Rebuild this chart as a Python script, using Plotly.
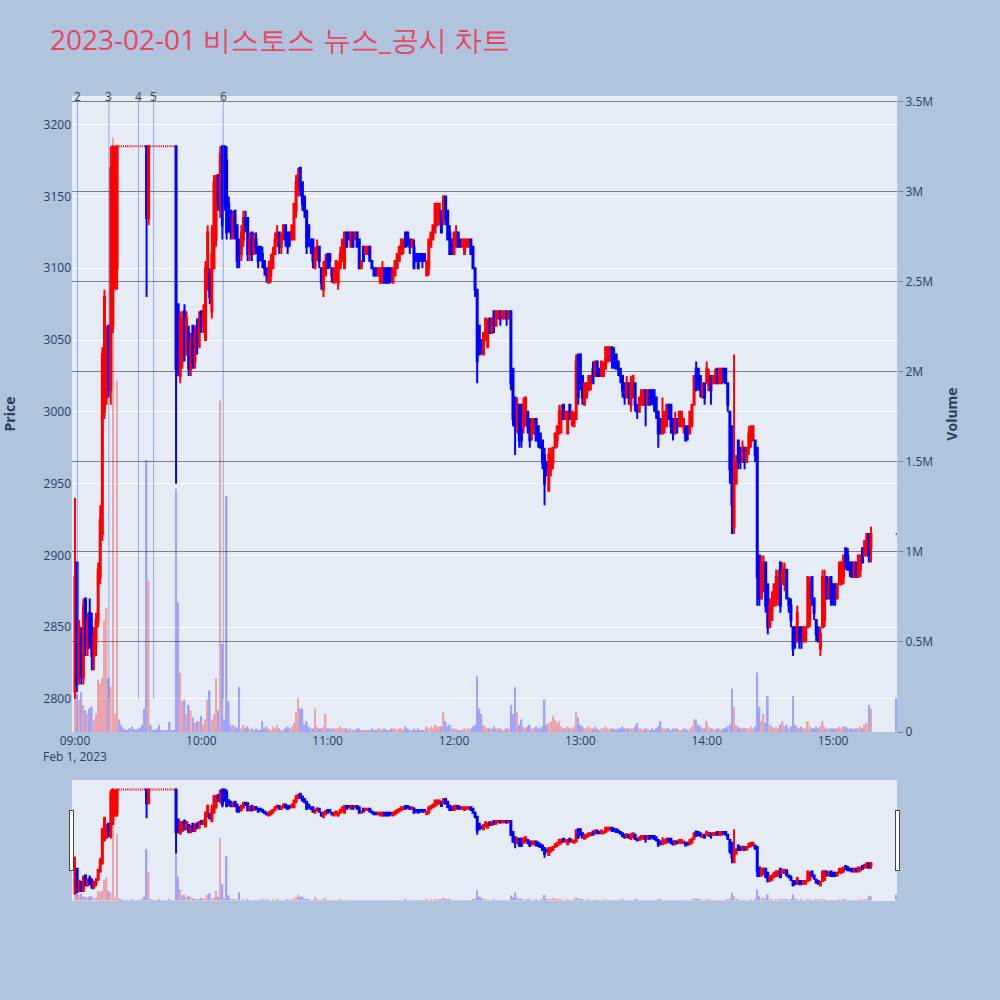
import pandas as pd
import plotly.graph_objects as go

# minute offsets from 09:00 (continuous session up to 15:18, closing print at 15:30)
minute_offsets = list(range(379)) + [390]

opens = [
    2805, 2895, 2815, 2845, 2815, 2870, 2835, 2860, 2850, 2830,
    2840, 2855, 2885, 2915, 3000, 3010, 3060, 3015, 3060, 3100,
    3100, 3185, 3185, 3185, 3185, 3185, 3185, 3185, 3185, 3185,
    3185, 3185, 3185, 3185, 3185, 3135, 3185, 3185, 3185, 3185,
    3185, 3185, 3185, 3185, 3185, 3185, 3185, 3185, 3185, 3075,
    3025, 3035, 3070, 3040, 3055, 3030, 3060, 3035, 3060, 3045,
    3070, 3060, 3050, 3085, 3095, 3070, 3100, 3120, 3165, 3140,
    3185, 3185, 3175, 3145, 3140, 3125, 3140, 3130, 3120, 3110,
    3120, 3135, 3135, 3110, 3125, 3110, 3120, 3115, 3115, 3110,
    3105, 3100, 3090, 3095, 3100, 3110, 3120, 3125, 3115, 3120,
    3130, 3125, 3125, 3120, 3120, 3140, 3155, 3170, 3160, 3150,
    3140, 3130, 3120, 3120, 3100, 3110, 3115, 3100, 3085, 3095,
    3110, 3110, 3100, 3090, 3095, 3090, 3100, 3105, 3100, 3125,
    3125, 3115, 3125, 3120, 3125, 3120, 3100, 3115, 3110, 3110,
    3115, 3105, 3100, 3100, 3095, 3090, 3090, 3100, 3100, 3100,
    3100, 3090, 3095, 3100, 3105, 3110, 3115, 3125, 3125, 3120,
    3115, 3115, 3110, 3110, 3110, 3110, 3110, 3095, 3100, 3115,
    3120, 3125, 3130, 3135, 3140, 3135, 3150, 3140, 3125, 3120,
    3110, 3115, 3125, 3120, 3115, 3110, 3115, 3115, 3120, 3115,
    3100, 3085, 3060, 3050, 3040, 3050, 3045, 3065, 3055, 3070,
    3060, 3065, 3070, 3065, 3065, 3070, 3065, 3070, 3030, 3010,
    2990, 3005, 3005, 2990, 2995, 3000, 2995, 2985, 2985, 2995,
    2990, 2985, 2980, 2970, 2965, 2945, 2960, 2965, 2975, 2980,
    2985, 2995, 3005, 2995, 2985, 3005, 2995, 2990, 2995, 3040,
    3040, 3025, 3005, 3010, 3015, 3020, 3030, 3025, 3035, 3030,
    3025, 3025, 3030, 3035, 3040, 3045, 3040, 3040, 3035, 3030,
    3025, 3020, 3010, 3020, 3005, 3010, 3020, 3005, 3000, 3005,
    3005, 3015, 3005, 3015, 3015, 3015, 3010, 3000, 2995, 2985,
    2990, 2990, 3005, 3005, 2995, 2985, 2995, 2990, 2990, 2990,
    2990, 2990, 2985, 2990, 3005, 3030, 3030, 3025, 3010, 3020,
    3020, 3015, 3025, 3020, 3020, 3030, 3020, 3020, 3030, 3030,
    3020, 3000, 2990, 2920, 2950, 2980, 2975, 2965, 2975, 2965,
    2975, 2980, 2980, 2980, 2975, 2900, 2870, 2875, 2895, 2880,
    2850, 2855, 2865, 2870, 2870, 2895, 2880, 2880, 2890, 2870,
    2865, 2850, 2850, 2840, 2850, 2850, 2840, 2840, 2850, 2855,
    2885, 2870, 2855, 2850, 2835, 2850, 2855, 2885, 2870, 2885,
    2880, 2880, 2870, 2880, 2880, 2885, 2905, 2900, 2895, 2895,
    2885, 2895, 2885, 2890, 2905, 2900, 2900, 2915, 2905,
    2915,
]

highs = [
    2940, 2895, 2855, 2850, 2870, 2870, 2860, 2870, 2860, 2850,
    2860, 2895, 2935, 3045, 3085, 3060, 3060, 3185, 3185, 3185,
    3185, 3185, 3185, 3185, 3185, 3185, 3185, 3185, 3185, 3185,
    3185, 3185, 3185, 3185, 3185, 3185, 3185, 3185, 3185, 3185,
    3185, 3185, 3185, 3185, 3185, 3185, 3185, 3185, 3185, 3075,
    3070, 3070, 3075, 3070, 3060, 3055, 3060, 3060, 3065, 3070,
    3070, 3075, 3105, 3130, 3100, 3130, 3165, 3165, 3165, 3185,
    3185, 3185, 3185, 3150, 3140, 3140, 3140, 3130, 3120, 3130,
    3140, 3140, 3135, 3125, 3125, 3125, 3125, 3115, 3115, 3115,
    3105, 3100, 3105, 3110, 3115, 3125, 3130, 3125, 3125, 3130,
    3130, 3125, 3125, 3130, 3145, 3165, 3170, 3170, 3160, 3150,
    3140, 3130, 3120, 3120, 3115, 3120, 3115, 3100, 3105, 3110,
    3110, 3110, 3100, 3100, 3105, 3105, 3115, 3120, 3125, 3125,
    3125, 3125, 3125, 3125, 3125, 3120, 3105, 3115, 3115, 3115,
    3115, 3105, 3100, 3100, 3100, 3100, 3105, 3100, 3100, 3100,
    3100, 3100, 3105, 3110, 3115, 3120, 3120, 3125, 3125, 3120,
    3120, 3120, 3110, 3110, 3110, 3110, 3110, 3105, 3120, 3125,
    3130, 3145, 3145, 3145, 3140, 3150, 3150, 3140, 3130, 3120,
    3125, 3130, 3125, 3120, 3120, 3120, 3120, 3120, 3120, 3115,
    3100, 3085, 3060, 3050, 3055, 3065, 3065, 3065, 3065, 3070,
    3070, 3070, 3070, 3070, 3070, 3070, 3070, 3070, 3030, 3010,
    3010, 3005, 3005, 3010, 3010, 3000, 2995, 2995, 2995, 2995,
    2990, 2985, 2980, 2975, 2965, 2975, 2975, 2975, 2985, 2990,
    3005, 3005, 3005, 3000, 3000, 3005, 3000, 3000, 3040, 3040,
    3040, 3025, 3020, 3020, 3025, 3025, 3035, 3035, 3035, 3030,
    3035, 3035, 3045, 3045, 3045, 3045, 3045, 3040, 3035, 3030,
    3025, 3020, 3025, 3020, 3025, 3025, 3020, 3005, 3010, 3015,
    3015, 3015, 3015, 3015, 3015, 3015, 3010, 3000, 2995, 3010,
    3000, 3005, 3005, 3005, 2995, 3000, 2995, 3000, 3000, 2995,
    2990, 2990, 3000, 3005, 3025, 3035, 3030, 3025, 3020, 3020,
    3035, 3030, 3025, 3025, 3030, 3030, 3030, 3030, 3030, 3030,
    3020, 3000, 2990, 3040, 2970, 2980, 2975, 2980, 2975, 2975,
    2990, 2990, 2990, 2980, 2975, 2900, 2900, 2900, 2895, 2880,
    2870, 2875, 2880, 2890, 2890, 2895, 2895, 2895, 2890, 2870,
    2870, 2850, 2850, 2865, 2850, 2850, 2850, 2850, 2885, 2885,
    2885, 2870, 2855, 2850, 2850, 2890, 2890, 2885, 2885, 2885,
    2880, 2880, 2880, 2895, 2895, 2900, 2905, 2905, 2895, 2895,
    2895, 2895, 2900, 2900, 2905, 2910, 2915, 2915, 2920,
    2915,
]

lows = [
    2800, 2805, 2810, 2810, 2810, 2830, 2830, 2835, 2820, 2820,
    2830, 2850, 2880, 2910, 2995, 3005, 3010, 3005, 3055, 3085,
    3085, 3185, 3185, 3185, 3185, 3185, 3185, 3185, 3185, 3185,
    3185, 3185, 3185, 3185, 3080, 3130, 3185, 3185, 3185, 3185,
    3185, 3185, 3185, 3185, 3185, 3185, 3185, 3185, 2950, 3025,
    3020, 3030, 3035, 3040, 3025, 3025, 3030, 3030, 3040, 3045,
    3055, 3055, 3050, 3085, 3075, 3065, 3100, 3115, 3140, 3135,
    3120, 3140, 3120, 3125, 3120, 3120, 3120, 3100, 3100, 3105,
    3115, 3125, 3105, 3105, 3105, 3110, 3110, 3100, 3105, 3100,
    3095, 3090, 3090, 3090, 3100, 3110, 3115, 3110, 3110, 3120,
    3115, 3110, 3115, 3120, 3120, 3135, 3150, 3150, 3140, 3135,
    3110, 3115, 3110, 3100, 3100, 3105, 3100, 3085, 3080, 3095,
    3100, 3100, 3090, 3090, 3090, 3085, 3100, 3105, 3100, 3115,
    3120, 3115, 3115, 3120, 3115, 3100, 3100, 3105, 3110, 3110,
    3105, 3100, 3095, 3095, 3095, 3090, 3090, 3090, 3090, 3090,
    3090, 3090, 3095, 3100, 3105, 3110, 3110, 3115, 3115, 3110,
    3115, 3100, 3105, 3100, 3105, 3100, 3105, 3095, 3095, 3115,
    3120, 3125, 3130, 3130, 3125, 3130, 3130, 3120, 3110, 3110,
    3110, 3115, 3115, 3115, 3115, 3110, 3115, 3115, 3110, 3100,
    3080, 3020, 3040, 3040, 3040, 3050, 3045, 3055, 3055, 3055,
    3060, 3065, 3060, 3065, 3065, 3060, 3065, 3015, 2990, 2970,
    2985, 2975, 2975, 2985, 2990, 2985, 2975, 2980, 2985, 2980,
    2975, 2975, 2960, 2935, 2955, 2945, 2955, 2960, 2975, 2975,
    2985, 2985, 2995, 2995, 2985, 2995, 2990, 2990, 2995, 3005,
    3015, 3005, 3005, 3010, 3015, 3015, 3020, 3025, 3025, 3025,
    3025, 3025, 3030, 3035, 3035, 3030, 3030, 3030, 3025, 3020,
    3010, 3005, 3010, 3005, 3000, 3010, 3000, 2995, 3000, 3005,
    3005, 2990, 3005, 3005, 3005, 3000, 2995, 2975, 2985, 2985,
    2985, 2990, 2995, 2985, 2980, 2985, 2985, 2990, 2990, 2985,
    2980, 2980, 2985, 2990, 3005, 3015, 3015, 3010, 3010, 3005,
    3020, 3015, 3005, 3020, 3020, 3020, 3020, 3020, 3020, 3020,
    3000, 2950, 2915, 2915, 2950, 2960, 2960, 2965, 2960, 2965,
    2970, 2975, 2980, 2965, 2865, 2865, 2870, 2875, 2860, 2845,
    2850, 2855, 2865, 2865, 2865, 2860, 2880, 2875, 2870, 2860,
    2850, 2830, 2835, 2840, 2835, 2835, 2840, 2840, 2850, 2850,
    2865, 2855, 2840, 2840, 2830, 2850, 2850, 2870, 2870, 2865,
    2865, 2865, 2870, 2880, 2880, 2880, 2890, 2890, 2885, 2885,
    2885, 2885, 2885, 2885, 2895, 2900, 2900, 2895, 2895,
    2915,
]

closes = [
    2885, 2810, 2850, 2815, 2865, 2835, 2855, 2840, 2830, 2845,
    2855, 2890, 2925, 3040, 3080, 3045, 3015, 3170, 3185, 3165,
    3185, 3185, 3185, 3185, 3185, 3185, 3185, 3185, 3185, 3185,
    3185, 3185, 3185, 3185, 3135, 3185, 3185, 3185, 3185, 3185,
    3185, 3185, 3185, 3185, 3185, 3185, 3185, 3185, 3030, 3030,
    3065, 3065, 3040, 3065, 3030, 3050, 3035, 3055, 3045, 3065,
    3060, 3070, 3100, 3125, 3080, 3110, 3160, 3150, 3145, 3180,
    3130, 3145, 3125, 3130, 3125, 3135, 3125, 3105, 3110, 3125,
    3135, 3130, 3110, 3120, 3110, 3120, 3115, 3105, 3110, 3105,
    3100, 3095, 3100, 3105, 3110, 3120, 3125, 3115, 3120, 3130,
    3120, 3115, 3120, 3130, 3145, 3160, 3165, 3155, 3145, 3140,
    3115, 3120, 3115, 3105, 3110, 3115, 3105, 3090, 3100, 3105,
    3100, 3105, 3095, 3100, 3105, 3100, 3110, 3120, 3125, 3115,
    3120, 3125, 3115, 3125, 3115, 3100, 3105, 3105, 3115, 3115,
    3105, 3100, 3095, 3095, 3100, 3100, 3100, 3090, 3090, 3090,
    3095, 3100, 3105, 3110, 3115, 3120, 3120, 3115, 3120, 3115,
    3120, 3100, 3105, 3100, 3105, 3105, 3105, 3105, 3120, 3125,
    3130, 3145, 3145, 3145, 3125, 3150, 3135, 3120, 3110, 3110,
    3125, 3125, 3115, 3115, 3120, 3120, 3120, 3120, 3110, 3100,
    3085, 3035, 3040, 3045, 3055, 3065, 3060, 3055, 3065, 3060,
    3070, 3070, 3065, 3070, 3070, 3065, 3070, 3020, 2995, 2990,
    3005, 2980, 2980, 3005, 3010, 2990, 2980, 2995, 2995, 2980,
    2980, 2975, 2965, 2950, 2960, 2970, 2970, 2975, 2985, 2990,
    3000, 3000, 2995, 3000, 3000, 2995, 3000, 2995, 3035, 3010,
    3020, 3010, 3020, 3020, 3025, 3025, 3020, 3035, 3025, 3025,
    3035, 3030, 3045, 3045, 3045, 3035, 3035, 3030, 3030, 3025,
    3015, 3010, 3020, 3010, 3020, 3025, 3005, 3000, 3010, 3015,
    3015, 3005, 3015, 3005, 3010, 3005, 3000, 2985, 2985, 2995,
    3000, 3005, 2995, 2990, 2985, 2995, 2990, 3000, 3000, 2995,
    2980, 2985, 3000, 3005, 3025, 3015, 3020, 3015, 3020, 3010,
    3030, 3025, 3015, 3025, 3025, 3020, 3030, 3030, 3025, 3020,
    3005, 2960, 2935, 2950, 2965, 2965, 2965, 2975, 2965, 2975,
    2985, 2990, 2990, 2970, 2885, 2870, 2895, 2895, 2865, 2850,
    2865, 2870, 2880, 2885, 2885, 2865, 2890, 2890, 2870, 2865,
    2855, 2835, 2840, 2860, 2840, 2845, 2850, 2850, 2885, 2880,
    2870, 2860, 2845, 2840, 2845, 2885, 2885, 2870, 2880, 2870,
    2870, 2870, 2880, 2895, 2895, 2900, 2895, 2890, 2890, 2885,
    2895, 2885, 2900, 2900, 2895, 2910, 2915, 2900, 2915,
    2915,
]

volumes_k = [
    200, 210, 180, 220, 150, 120, 100, 130, 140, 70,
    100, 290, 270, 300, 620, 690, 300, 250, 3300, 100,
    1950, 70, 40, 20, 10, 10, 20, 30, 15, 10,
    20, 25, 40, 130, 1510, 840, 40, 10, 10, 20,
    40, 10, 10, 5, 10, 55, 10, 10, 1350, 720,
    330, 170, 180, 100, 150, 120, 80, 50, 60, 60,
    90, 40, 70, 180, 230, 70, 100, 300, 120, 1840,
    490, 70, 1310, 170, 40, 40, 30, 20, 250, 20,
    40, 20, 30, 20, 20, 10, 20, 10, 10, 60,
    20, 30, 20, 10, 30, 20, 40, 20, 10, 10,
    20, 30, 20, 30, 50, 110, 190, 130, 130, 40,
    60, 30, 20, 20, 130, 30, 20, 20, 30, 100,
    20, 20, 20, 20, 20, 20, 30, 20, 20, 20,
    10, 20, 10, 10, 20, 20, 10, 10, 10, 10,
    10, 20, 10, 10, 20, 20, 10, 20, 10, 10,
    20, 20, 20, 10, 20, 20, 10, 30, 20, 10,
    10, 20, 10, 20, 10, 10, 10, 30, 20, 30,
    20, 40, 30, 30, 30, 110, 60, 30, 40, 20,
    20, 20, 10, 10, 10, 20, 10, 20, 20, 30,
    40, 310, 130, 100, 40, 30, 20, 20, 20, 30,
    20, 20, 20, 10, 10, 20, 20, 150, 100, 250,
    110, 40, 70, 30, 20, 30, 40, 20, 20, 30,
    20, 20, 30, 180, 40, 50, 60, 90, 70, 50,
    60, 30, 20, 20, 30, 20, 20, 30, 110, 80,
    40, 30, 20, 20, 30, 20, 20, 30, 20, 10,
    20, 20, 30, 20, 20, 20, 20, 10, 20, 20,
    30, 20, 20, 20, 20, 20, 30, 50, 20, 20,
    10, 20, 20, 10, 20, 10, 20, 30, 60, 20,
    20, 20, 20, 10, 20, 20, 20, 10, 10, 20,
    20, 10, 20, 30, 70, 70, 40, 30, 20, 20,
    60, 30, 20, 20, 10, 20, 20, 10, 20, 20,
    30, 40, 240, 140, 40, 30, 20, 20, 20, 20,
    20, 30, 20, 30, 330, 140, 60, 100, 50, 200,
    40, 30, 20, 30, 20, 40, 60, 30, 40, 20,
    30, 200, 40, 30, 20, 30, 20, 20, 60, 30,
    20, 20, 30, 20, 30, 60, 30, 20, 20, 20,
    20, 20, 20, 30, 20, 30, 30, 20, 20, 20,
    20, 20, 20, 30, 20, 40, 50, 150, 130,
    190,
]

event_times = ["2023-02-01 09:01:10", "2023-02-01 09:16:05", "2023-02-01 09:30:10",
               "2023-02-01 09:37:20", "2023-02-01 10:10:25"]
event_labels = ["2", "3", "4", "5", "6"]

n = len(minute_offsets)
assert all(len(a) == n for a in (opens, highs, lows, closes, volumes_k)), [len(a) for a in (opens, highs, lows, closes, volumes_k)]

times = pd.Timestamp("2023-02-01 09:00:00") + pd.to_timedelta(minute_offsets, unit="min")
volumes = [v * 1000 for v in volumes_k]
vol_colors = ["red" if c > o else "blue" for o, c in zip(opens, closes)]

x_range = ["2023-02-01 08:58:35", "2023-02-01 15:30:22"]

fig = go.Figure()
fig.add_trace(go.Bar(
    x=times, y=volumes, yaxis="y2", name="Volume",
    marker=dict(color=vol_colors, line=dict(width=0)), opacity=0.3,
    showlegend=False,
))
fig.add_trace(go.Candlestick(
    x=times, open=opens, high=highs, low=lows, close=closes, name="Price",
    increasing=dict(line=dict(color="red"), fillcolor="red"),
    decreasing=dict(line=dict(color="blue"), fillcolor="blue"),
    showlegend=False,
))

for t, lab in zip(event_times, event_labels):
    fig.add_shape(type="line", xref="x", yref="y", x0=t, x1=t, y0=2800, y1=3220,
                  line=dict(color="rgba(65,105,225,0.5)", width=1))
    fig.add_annotation(x=t, y=1, xref="x", yref="paper", text=lab, showarrow=False,
                       yanchor="middle", font=dict(size=12, color="#444"))

fig.update_layout(
    width=1000, height=1000,
    paper_bgcolor="#B0C4DE",
    plot_bgcolor="#E5ECF6",
    title=dict(text="2023-02-01 비스토스 뉴스_공시 차트", x=0.05, xanchor="left",
               y=0.96, yanchor="middle", font=dict(size=28, color="#E8465E")),
    margin=dict(l=72, r=103, t=96, b=100),
    showlegend=False,
    bargap=0.2,
    xaxis=dict(type="date", range=x_range, showgrid=False,
               rangeslider=dict(visible=True, thickness=0.15, bgcolor="#E5ECF6", range=x_range)),
    yaxis=dict(title=dict(text="<b>Price</b>", font=dict(size=14), standoff=26), automargin=False,
               range=[2777, 3220], dtick=50, gridcolor="white"),
    yaxis2=dict(title=dict(text="<b>Volume</b>", font=dict(size=14)), overlaying="y", side="right",
                automargin=False,
                range=[0, 3.53e6], dtick=500000, showgrid=True, gridcolor="gray",
                ticks="outside", ticklen=5, tickcolor="gray", zeroline=False),
)

fig.write_html("out.html", config={"displayModeBar": False},
               post_script="document.body.style.margin='0';")
